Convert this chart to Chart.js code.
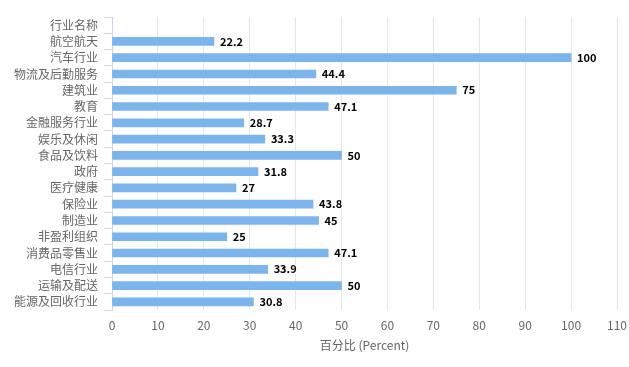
<!DOCTYPE html>
<html>
<head>
<meta charset="utf-8">
<script src="https://cdn.jsdelivr.net/npm/chart.js@4/dist/chart.umd.min.js"></script>
<style>
  html, body { margin: 0; padding: 0; background: #fff; }
  #wrap { width: 629px; height: 367px; }
</style>
</head>
<body>
<div id="wrap"><canvas id="myChart" width="629" height="367"></canvas></div>
<script>
// industries, top to bottom
var industries = ['行业名称', '航空航天', '汽车行业', '物流及后勤服务', '建筑业', '教育', '金融服务行业',
    '娱乐及休闲', '食品及饮料', '政府', '医疗健康', '保险业', '制造业', '非盈利组织',
    '消费品零售业', '电信行业', '运输及配送', '能源及回收行业'];
var percent = [null, 22.2, 100, 44.4, 75, 47.1, 28.7, 33.3, 50, 31.8, 27, 43.8, 45, 25, 47.1, 33.9, 50, 30.8];
var xTitle = '百分比 (Percent)';

var cjk = '"Microsoft YaHei", "Noto Sans CJK SC", "Noto Sans", sans-serif';

// value labels at the end of each bar
var barLabels = {
    id: 'barLabels',
    afterDatasetsDraw: function (chart) {
        var ctx = chart.ctx;
        var meta = chart.getDatasetMeta(0);
        ctx.save();
        ctx.font = 'bold 11px ' + cjk;
        ctx.textBaseline = 'middle';
        ctx.textAlign = 'left';
        ctx.lineJoin = 'round';
        meta.data.forEach(function (bar, i) {
            var v = percent[i];
            if (v === null) return;
            var txt = String(v);
            ctx.lineWidth = 2;
            ctx.strokeStyle = '#ffffff';
            ctx.strokeText(txt, bar.x + 6, bar.y);
            ctx.fillStyle = '#000000';
            ctx.fillText(txt, bar.x + 6, bar.y);
        });
        ctx.restore();
    }
};

var ctx = document.getElementById('myChart').getContext('2d');
var myChart = new Chart(ctx, {
    type: 'bar',
    data: {
        labels: industries,
        datasets: [{
            data: percent,
            backgroundColor: '#7cb5ec',
            borderWidth: 0,
            barThickness: 8
        }]
    },
    plugins: [barLabels],
    options: {
        indexAxis: 'y',
        responsive: false,
        animation: false,
        layout: { padding: { top: 17, right: 12, bottom: 10, left: 0 } },
        plugins: {
            legend: { display: false },
            tooltip: { enabled: false }
        },
        scales: {
            x: {
                min: 0,
                max: 110,
                ticks: {
                    stepSize: 10,
                    color: '#666666',
                    font: { size: 12, family: cjk },
                    padding: 8,
                    maxRotation: 0
                },
                grid: { color: '#e6e6e6', drawTicks: false },
                border: { display: false },
                title: {
                    display: true,
                    text: xTitle,
                    color: '#666666',
                    font: { size: 12, family: cjk },
                    padding: { top: 4 }
                },
                afterFit: function (scale) {
                    scale.height = 47;
                    scale.paddingRight = 0;
                }
            },
            y: {
                ticks: {
                    color: '#666666',
                    font: { size: 12, family: cjk },
                    padding: 6,
                    autoSkip: false
                },
                grid: {
                    drawOnChartArea: false,
                    drawTicks: true,
                    tickLength: 8,
                    color: '#ccd6eb',
                    offset: true
                },
                border: { display: true, color: '#ccd6eb' },
                afterFit: function (scale) { scale.width = 112; }
            }
        }
    }
});
</script>
</body>
</html>
